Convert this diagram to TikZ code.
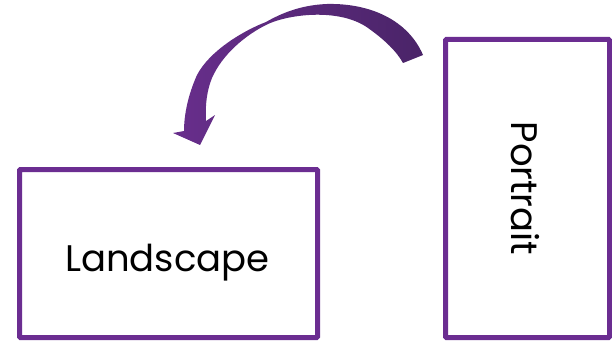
\documentclass[tikz,border=0pt]{standalone}
\usepackage{fontspec}
\setmainfont{Poppins}
\definecolor{boxpurple}{RGB}{107,45,145}
\definecolor{arrowlight}{RGB}{104,46,140}
\definecolor{arrowdark}{RGB}{74,36,104}
\begin{document}
\begin{tikzpicture}[x=1pt,y=-1pt,
  framebox/.style={draw=boxpurple,line width=5pt,rounded corners=1pt,inner sep=0pt,fill=white},
  label/.style={font=\fontsize{37}{44}\selectfont,text=black,inner sep=0pt}]
\useasboundingbox (0,0) rectangle (612,342);
% boxes
\node[framebox,minimum width=298pt,minimum height=168pt] (land) at (168.5,253.5) {};
\node[framebox,minimum width=164pt,minimum height=298pt] (port) at (527.5,188.5) {};
% labels
\node[label,anchor=base] (landtext) at (167.5,271) {Landscape};
\node[label,anchor=base,rotate=-90] (porttext) at (511,188.5) {Portrait};
% curved arrow (from Portrait towards Landscape)
\shade[left color=arrowlight,right color=arrowdark]
  (423,55) .. controls (408,20) and (370,3) .. (327,4)
  .. controls (300,5) and (280,14) .. (266,22)
  .. controls (245,30) and (210,50) .. (197,75)
  .. controls (188,95) and (184,115) .. (184,131)
  -- (173,133) -- (200,145) -- (215,115) -- (206,121)
  .. controls (205,105) and (207,90) .. (212,78)
  .. controls (222,55) and (245,35) .. (268,24)
  .. controls (290,14) and (340,8) .. (368,28)
  .. controls (385,40) and (397,52) .. (403,63) -- cycle;
\end{tikzpicture}
\end{document}
